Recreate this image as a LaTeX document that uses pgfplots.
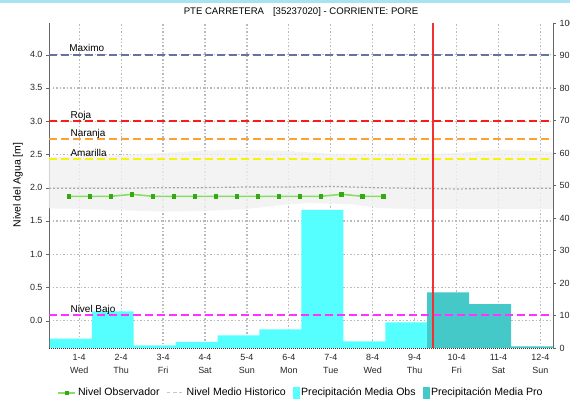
\documentclass[border=0pt]{standalone}
\usepackage{pgfplots}
\pgfplotsset{compat=1.18}
\usepackage{fontspec}
\setmainfont{Liberation Sans}
\definecolor{cmax}{RGB}{100,116,160}
\definecolor{croja}{RGB}{255,26,26}
\definecolor{cnar}{RGB}{255,160,51}
\definecolor{cama}{RGB}{248,244,0}
\definecolor{cbajo}{RGB}{255,51,255}
\definecolor{cobs}{RGB}{85,255,255}
\definecolor{cpro}{RGB}{68,200,200}
\definecolor{cband}{RGB}{240,240,240}
\definecolor{lgreen}{RGB}{136,221,102}
\definecolor{dgreen}{RGB}{51,170,17}
\definecolor{vline}{RGB}{240,50,50}
\definecolor{cgrid}{RGB}{185,185,185}
\definecolor{cmean}{RGB}{170,170,170}
\definecolor{ctop}{RGB}{168,228,240}
\pgfplotsset{
  common/.style={
    scale only axis, width=504bp, height=325bp,
    at={(49bp,52bp)}, anchor=south west,
    xmin=-0.72, xmax=11.3,
    tick align=outside, major tick length=3bp,
    /pgf/number format/assume math mode=true,
    ticklabel style={font=\fontsize{9}{12.7}\selectfont, text=black!85},
  }
}
\begin{document}
\begin{tikzpicture}
\path[use as bounding box] (0,0) rectangle (570bp,400bp);
\fill[ctop] (0,397bp) rectangle (570bp,400bp);
% --- axis 1: grid, band, left axis
\begin{axis}[common,
  ymin=-0.411, ymax=4.476,
  axis y line*=left, axis x line*=bottom,
  axis line style={-},
  y axis line style={draw=black!60},
  x axis line style={draw=black!80, dash pattern=on 1bp off 1bp},
  xtick={0,...,11},
  xticklabels={1-4\\Wed,2-4\\Thu,3-4\\Fri,4-4\\Sat,5-4\\Sun,6-4\\Mon,7-4\\Tue,8-4\\Wed,9-4\\Thu,10-4\\Fri,11-4\\Sat,12-4\\Sun},
  xticklabel style={align=center},
  xtick style={/pgfplots/major tick length=0pt},
  ytick={0,0.5,...,4.0},
  ytick style={black!60},
  yticklabel style={/pgf/number format/.cd, fixed, fixed zerofill, precision=1},
  xmajorgrids=true, ymajorgrids=true,
  grid style={draw=cgrid, line width=1.2bp, dash pattern=on 1.5bp off 2bp},
]
\addplot[fill=cband, draw=none, fill opacity=0.8] coordinates {
 (-0.72,2.46) (0,2.47) (1,2.49) (2,2.52) (3,2.56) (4,2.57) (5,2.55) (6,2.51) (7,2.50) (8,2.50) (9,2.52) (10,2.57) (11,2.55) (11.3,2.53)
 (11.3,1.68) (10,1.68) (9,1.68) (8,1.68) (7.2,1.69) (6.5,1.75) (5.5,1.77) (5,1.75) (4,1.68) (3,1.65) (2,1.64) (1,1.66) (0,1.68) (-0.72,1.69)
} -- cycle;
\end{axis}
% --- axis 2: precipitation bars, right axis
\begin{axis}[common,
  ymin=0, ymax=100,
  axis y line*=right, axis x line=none,
  axis line style={-},
  y axis line style={draw=black!60},
  ytick={0,10,...,100},
  ytick style={black!60},
]
\addplot[ybar interval, fill=cobs, draw=none] coordinates {
 (-0.7,2.9) (0.3,11.3) (1.3,0.8) (2.3,1.9) (3.3,3.9) (4.3,5.7) (5.3,42.5) (6.3,2.0) (7.3,7.9) (8.3,7.9)
};
\addplot[ybar interval, fill=cpro, draw=none] coordinates {
 (8.3,17.1) (9.3,13.5) (10.3,0.5) (11.3,0.5)
};
\end{axis}
% --- axis 3: lines, labels, legend
\begin{axis}[common,
  ymin=-0.411, ymax=4.476,
  hide axis,
  clip=false,
  legend style={at={(0.5,-0.138)}, anchor=center, draw=none, fill=none,
    font=\fontsize{10.6}{12}\selectfont, legend columns=4,
    /tikz/every even column/.append style={column sep=5bp},
    inner sep=0pt, legend cell align=left},
]
\addplot[draw=cmax, line width=1.8bp, dash pattern=on 8bp off 4bp, forget plot] coordinates {(-0.72,4.0) (11.3,4.0)};
\addplot[draw=croja, line width=1.8bp, dash pattern=on 8bp off 4bp, forget plot] coordinates {(-0.72,3.0) (11.3,3.0)};
\addplot[draw=cnar, line width=1.8bp, dash pattern=on 8bp off 4bp, forget plot] coordinates {(-0.72,2.736) (11.3,2.736)};
\addplot[draw=cama, line width=1.8bp, dash pattern=on 8bp off 4bp, forget plot] coordinates {(-0.72,2.435) (11.3,2.435)};
\addplot[draw=cbajo, line width=1.8bp, dash pattern=on 8bp off 4bp, forget plot] coordinates {(-0.72,0.08) (11.3,0.08)};
\begingroup\fontsize{9}{10}\selectfont
\node[anchor=base west, inner sep=0pt] at (axis cs:-0.24,4.04) {Maximo};
\node[anchor=base west, inner sep=0pt] at (axis cs:-0.21,3.04) {Roja};
\node[anchor=base west, inner sep=0pt] at (axis cs:-0.21,2.776) {Naranja};
\node[anchor=base west, inner sep=0pt] at (axis cs:-0.21,2.475) {Amarilla};
\node[anchor=base west, inner sep=0pt] at (axis cs:-0.21,0.12) {Nivel Bajo};
\endgroup
\addplot[draw=cmean, line width=1.2bp, dash pattern=on 2bp off 2bp, forget plot] coordinates {
 (-0.72,1.99) (0,1.99) (1,1.99) (2,2.0) (3,2.0) (4,2.01) (5,2.01) (6,2.02) (7,2.0) (8,1.99) (9,1.98) (10,1.99) (11,1.99) (11.3,1.99)
};
\addplot[draw=lgreen, line width=1.6bp, mark=square*, mark size=1.4bp, mark options={fill=dgreen, draw=dgreen}, forget plot] coordinates {
 (-0.24,1.87) (0.26,1.87) (0.76,1.87) (1.26,1.90) (1.76,1.87) (2.26,1.87) (2.76,1.87) (3.26,1.87)
 (3.76,1.87) (4.26,1.87) (4.76,1.87) (5.26,1.87) (5.76,1.87) (6.26,1.90) (6.76,1.87) (7.26,1.87)
};
\addplot[fill=vline, draw=none, forget plot] coordinates {
 (8.425,-0.411) (8.465,-0.411) (8.465,4.476) (8.425,4.476)
} -- cycle;
\addlegendimage{draw=lgreen, line width=1.6bp, mark=square*, mark size=1.4bp, mark options={fill=dgreen, draw=dgreen}}
\addlegendentry{Nivel Observador}
\addlegendimage{draw=black!22, line width=1bp, dash pattern=on 3bp off 3bp}
\addlegendentry{Nivel Medio Historico}
\addlegendimage{legend image code/.code={\fill[cobs] (0.35cm,-5.5bp) rectangle (0.35cm+6bp,5.5bp);}}
\addlegendentry{Precipitación Media Obs}
\addlegendimage{legend image code/.code={\fill[cpro] (0.35cm,-5.5bp) rectangle (0.35cm+6bp,5.5bp);}}
\addlegendentry{Precipitación Media Pro}
\end{axis}
\node at (301bp,388bp) {\fontsize{9.6}{11}\selectfont PTE CARRETERA\hspace{9bp}[35237020] - CORRIENTE: PORE};
\node[rotate=90] at (18bp,215bp) {\fontsize{10.5}{12}\selectfont Nivel del Agua [m]};
\end{tikzpicture}
\end{document}
